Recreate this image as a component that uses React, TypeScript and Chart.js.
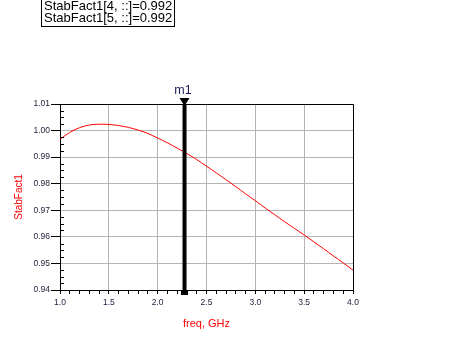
import React, { useEffect, useRef } from "react";
import { Chart, registerables } from "chart.js";

Chart.register(...registerables);

// ---- data ----
const freqGHz = [
  1.0, 1.1, 1.2, 1.3, 1.4, 1.5, 1.6, 1.7, 1.8, 1.9, 2.0, 2.1, 2.2, 2.3, 2.4, 2.5,
  2.6, 2.7, 2.8, 2.9, 3.0, 3.1, 3.2, 3.3, 3.4, 3.5, 3.6, 3.7, 3.8, 3.9, 4.0,
];
const stabFact1 = [
  0.9967, 0.9993, 1.0011, 1.0021, 1.0024, 1.0023, 1.0019, 1.0012, 1.0002, 0.9989,
  0.9972, 0.9954, 0.9934, 0.9913, 0.9891, 0.9866, 0.9841, 0.9815, 0.9789, 0.9762,
  0.9736, 0.9709, 0.9683, 0.9657, 0.9632, 0.9607, 0.9581, 0.9555, 0.9528, 0.9502,
  0.9475,
];
const xMin = 1.0;
const xMax = 4.0;
const xMinorStep = 0.1;
const xMajorStep = 0.5;
const yMin = 0.94;
const yMax = 1.01;
const yMajorStep = 0.01;
const yMinorStep = 0.0025;
const markerFreq = 2.275;
const markerLabel = "m1";
const readoutLines = ["StabFact1[4, ::]=0.992", "StabFact1[5, ::]=0.992"];
const xTitle = "freq, GHz";
const yTitle = "StabFact1";

const FONT = "'Liberation Sans', Arial, sans-serif";
const TICK_COLOR = "#1c1c3a";
const GRID_COLOR = "#b4b4b4";

const isMultiple = (v: number, step: number) =>
  Math.abs(v / step - Math.round(v / step)) < 1e-6;

const overlayPlugin = {
  id: "overlay",
  afterDraw(chart: any) {
    const { ctx, chartArea: ca, scales } = chart;
    const xs = scales.x;
    const ys = scales.y;
    ctx.save();
    ctx.strokeStyle = "#000";
    ctx.lineWidth = 1;

    // minor y ticks (inside)
    ctx.beginPath();
    const n = Math.round((yMax - yMin) / yMinorStep);
    for (let i = 0; i <= n; i++) {
      const v = yMin + i * yMinorStep;
      if (isMultiple(v - yMin, yMajorStep)) continue;
      const py = Math.round(ys.getPixelForValue(v)) + 0.5;
      ctx.moveTo(ca.left, py);
      ctx.lineTo(ca.left + 4, py);
    }
    ctx.stroke();

    // frame top/right
    ctx.beginPath();
    const l = Math.round(ca.left) + 0.5;
    const t = Math.round(ca.top) + 0.5;
    const r = Math.round(ca.right) + 0.5;
    const b = Math.round(ca.bottom) + 0.5;
    ctx.moveTo(l, t);
    ctx.lineTo(r, t);
    ctx.lineTo(r, b);
    ctx.stroke();

    // marker
    const mx = xs.getPixelForValue(markerFreq);
    ctx.fillStyle = "#000";
    ctx.fillRect(mx - 2, ca.top, 4, ca.bottom - ca.top + 5);
    ctx.fillRect(mx - 3.5, ca.bottom + 1, 7, 4);
    ctx.beginPath();
    ctx.moveTo(mx - 5, ca.top - 6);
    ctx.lineTo(mx + 5, ca.top - 6);
    ctx.lineTo(mx, ca.top + 2);
    ctx.closePath();
    ctx.fill();
    ctx.font = `12.5px ${FONT}`;
    ctx.fillStyle = "#1e1e5a";
    ctx.textAlign = "center";
    ctx.textBaseline = "alphabetic";
    ctx.fillText(markerLabel, mx - 1.5, ca.top - 10);

    // readout box
    ctx.strokeStyle = "#000";
    ctx.strokeRect(41.5, -5.5, 133, 32);
    ctx.fillStyle = "#000";
    ctx.textAlign = "left";
    ctx.font = `13px ${FONT}`;
    readoutLines.forEach((s, i) => ctx.fillText(s, 44, 9.5 + i * 12.8));
    ctx.restore();
  },
};

export default function App() {
  const ref = useRef<HTMLCanvasElement | null>(null);
  useEffect(() => {
    if (!ref.current) return;
    const chart = new Chart(ref.current, {
      type: "line",
      data: {
        datasets: [
          {
            data: freqGHz.map((f, i) => ({ x: f, y: stabFact1[i] })),
            borderColor: "#ff0000",
            borderWidth: 1,
            pointRadius: 0,
            tension: 0.3,
            fill: false,
          },
        ],
      },
      options: {
        animation: false,
        responsive: false,
        events: [],
        layout: { padding: { left: 13, top: 104, right: 103, bottom: 18 } },
        plugins: { legend: { display: false }, tooltip: { enabled: false } },
        scales: {
          x: {
            type: "linear",
            min: xMin,
            max: xMax,
            afterFit: (s: any) => {
              s.height = 41;
            },
            ticks: {
              stepSize: xMinorStep,
              autoSkip: false,
              maxRotation: 0,
              padding: 4,
              color: TICK_COLOR,
              font: { family: FONT, size: 8.5 },
              callback: (v: any) =>
                isMultiple(Number(v), xMajorStep) ? Number(v).toFixed(1) : "",
            },
            grid: {
              color: (c: any) =>
                c.tick && isMultiple(c.tick.value, xMajorStep) ? GRID_COLOR : "rgba(0,0,0,0)",
              tickColor: "#000",
              tickLength: 4,
              lineWidth: 1,
            },
            border: { color: "#000", width: 1 },
            title: {
              display: true,
              text: xTitle,
              color: "#ff0000",
              font: { family: FONT, size: 11 },
              padding: 0,
            },
          },
          y: {
            type: "linear",
            min: yMin,
            max: yMax,
            afterFit: (s: any) => {
              s.width = 47;
            },
            ticks: {
              stepSize: yMajorStep,
              autoSkip: false,
              padding: 1,
              color: TICK_COLOR,
              font: { family: FONT, size: 8.5 },
              callback: (v: any) => Number(v).toFixed(2),
            },
            grid: {
              color: GRID_COLOR,
              tickColor: "#000",
              tickLength: 9,
              lineWidth: 1,
            },
            border: { color: "#000", width: 1 },
            title: {
              display: true,
              text: yTitle,
              color: "#ff0000",
              font: { family: FONT, size: 10 },
              padding: 0,
            },
          },
        },
      },
      plugins: [overlayPlugin],
    } as any);
    return () => chart.destroy();
  }, []);
  return (
    <div style={{ position: "absolute", left: 0, top: 0, width: 456, height: 349, background: "#fff" }}>
      <canvas ref={ref} width={456} height={349} style={{ display: "block" }} />
    </div>
  );
}
